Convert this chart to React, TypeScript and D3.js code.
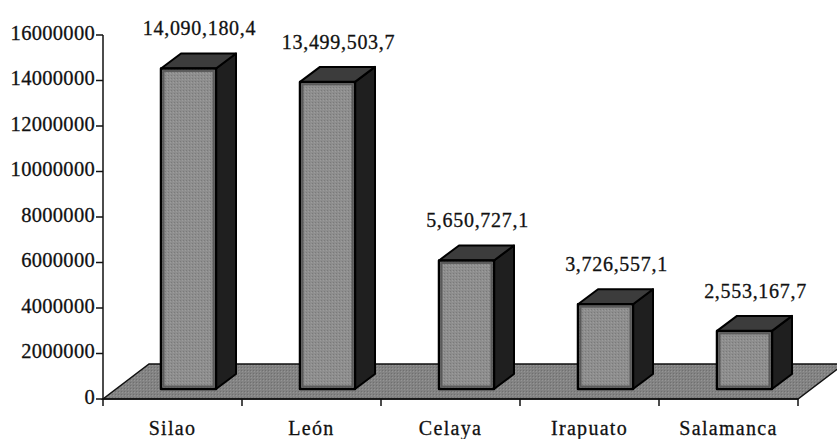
import React from "react";
import * as d3 from "d3";

const categories = ["Silao", "León", "Celaya", "Irapuato", "Salamanca"];
const values = [14090180.4, 13499503.7, 5650727.1, 3726557.1, 2553167.7];
const valueLabels = ["14,090,180,4", "13,499,503,7", "5,650,727,1", "3,726,557,1", "2,553,167,7"];
const yTicks = [0, 2000000, 4000000, 6000000, 8000000, 10000000, 12000000, 14000000, 16000000];

const width = 837;
const height = 439;
const left = 103;
const right = 798;
const base = 399;
const top = 35;
// floor depth and bar depth (oblique projection)
const floorDx = 46;
const floorDy = 35;
const barDx = 20;
const barDy = 15;
const barW = 55;
const font = "'Liberation Serif', 'Times New Roman', serif";

const App = () => {
  const x = d3.scaleBand<string>().domain(categories).range([left, right]).padding(0);
  const y = d3.scaleLinear().domain([0, 16000000]).range([base, top]);

  const offX = (floorDx - barDx) / 2;
  const offY = (floorDy - barDy) / 2;
  const bw = x.bandwidth();
  const pts = (a: number[][]) => a.map((p) => p.join(",")).join(" ");

  const floor = [
    [left, base],
    [right, base],
    [right + floorDx, base - floorDy],
    [left + floorDx, base - floorDy],
  ];

  return (
    <div style={{ position: "absolute", left: 0, top: 0 }}>
      <svg width={width} height={height} style={{ display: "block", background: "#fff" }}>
        <defs>
          <pattern id="dither" width="3" height="3" patternUnits="userSpaceOnUse">
            <rect width="3" height="3" fill="#8e8e8e" />
            <rect width="1" height="1" fill="#7a7a7a" />
            <rect x="2" y="1" width="1" height="1" fill="#9c9c9c" />
          </pattern>
          <pattern id="floorDither" width="3" height="3" patternUnits="userSpaceOnUse">
            <rect width="3" height="3" fill="#838383" />
            <rect x="1" y="1" width="1" height="1" fill="#6f6f6f" />
            <rect x="2" y="2" width="1" height="1" fill="#959595" />
          </pattern>
        </defs>

        <polygon points={pts(floor)} fill="url(#floorDither)" stroke="#111" strokeWidth={1.5} />

        {categories.map((c, i) => {
          const cx = x(c)! + bw / 2 + offX + 3;
          const x0 = cx - barW / 2;
          const x1 = cx + barW / 2;
          const yb = base - offY;
          const yt = y(values[i]) - offY;
          const front = [[x0, yt], [x1, yt], [x1, yb], [x0, yb]];
          const side = [[x1, yt], [x1 + barDx, yt - barDy], [x1 + barDx, yb - barDy], [x1, yb]];
          const topFace = [[x0, yt], [x0 + barDx, yt - barDy], [x1 + barDx, yt - barDy], [x1, yt]];
          return (
            <g key={c}>
              <polygon points={pts(side)} fill="#1f1f1f" stroke="#000" strokeWidth={2} strokeLinejoin="round" />
              <polygon points={pts(topFace)} fill="#3c3c3c" stroke="#000" strokeWidth={2} strokeLinejoin="round" />
              <polygon points={pts(front)} fill="url(#dither)" stroke="#000" strokeWidth={2.5} strokeLinejoin="round" />
              <rect x={x0 + 2.5} y={yt + 2.5} width={barW - 5} height={yb - yt - 5} fill="none" stroke="#5a5a5a" strokeWidth={2} />
              <text
                x={cx + barDx / 2 + 1}
                y={yt - barDy - 18}
                textAnchor="middle"
                fontFamily={font}
                fontSize={20}
                letterSpacing={0.7}
                fill="#111"
                stroke="#111"
                strokeWidth={0.3}
              >
                {valueLabels[i]}
              </text>
            </g>
          );
        })}

        {/* y axis */}
        <line x1={left} x2={left} y1={top} y2={base} stroke="#111" strokeWidth={1.5} />
        {yTicks.map((t) => (
          <g key={t}>
            <line x1={left - 7} x2={left} y1={y(t)} y2={y(t)} stroke="#111" strokeWidth={1.5} />
            <text
              x={left - 8}
              y={y(t) - 2}
              dy="0.32em"
              textAnchor="end"
              fontFamily={font}
              fontSize={20.5}
              letterSpacing={0.3}
              fill="#111"
              stroke="#111"
              strokeWidth={0.3}
            >
              {String(t)}
            </text>
          </g>
        ))}

        {/* x axis */}
        <line x1={left} x2={right} y1={base} y2={base} stroke="#111" strokeWidth={1.5} />
        {[...categories.map((c) => x(c)!), right].map((v, i) => (
          <line key={i} x1={v} x2={v} y1={base} y2={base + 7} stroke="#111" strokeWidth={1.5} />
        ))}
        {categories.map((c) => (
          <text
            key={c}
            x={x(c)! + bw / 2}
            y={435}
            textAnchor="middle"
            fontFamily={font}
            fontSize={20}
            letterSpacing={1.3}
            fill="#111"
            stroke="#111"
            strokeWidth={0.3}
          >
            {c}
          </text>
        ))}
      </svg>
    </div>
  );
};

export default App;
